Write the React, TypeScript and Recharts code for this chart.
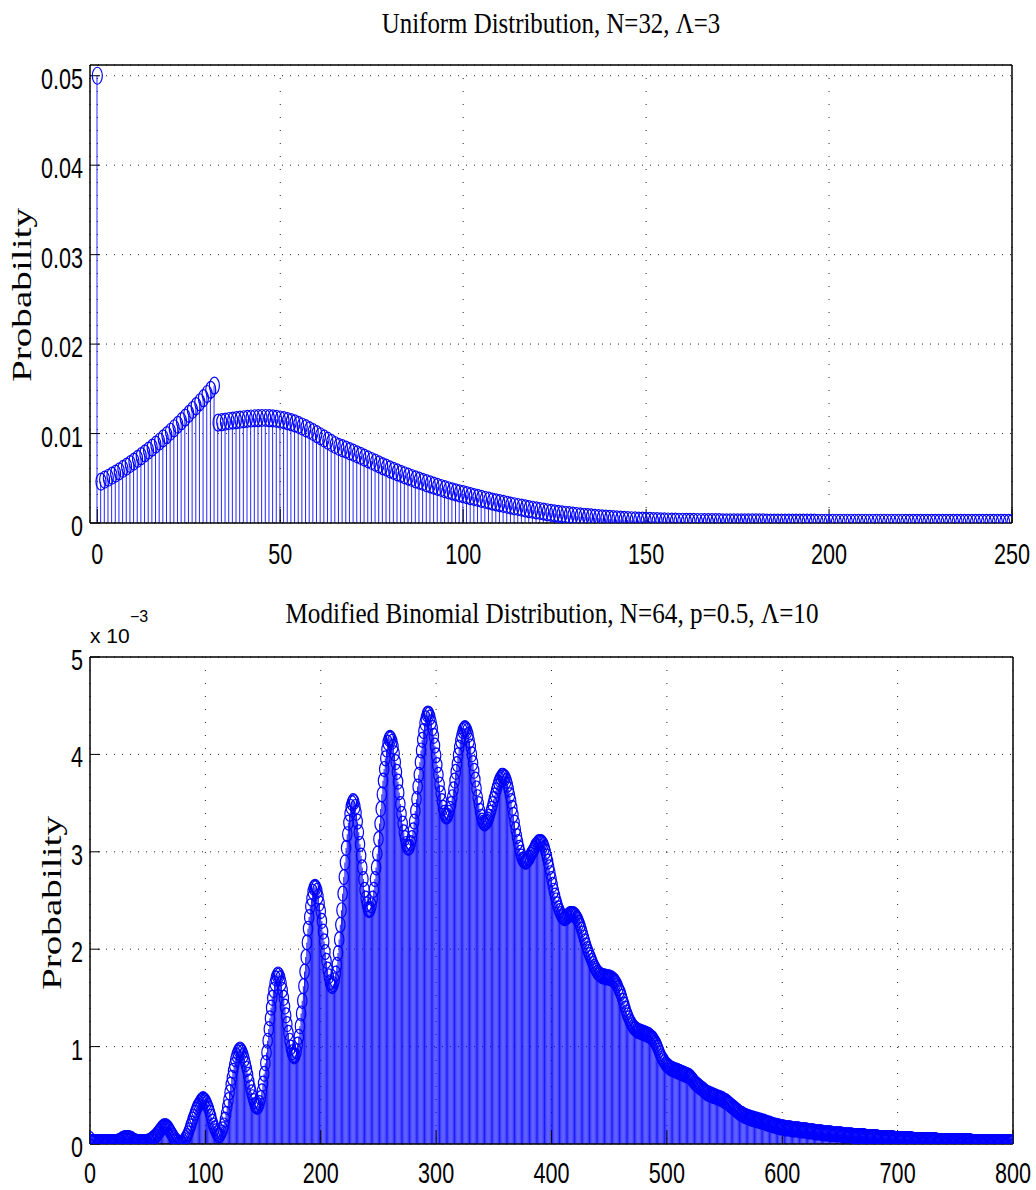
import React from 'react';
import { ComposedChart, Bar, Scatter, XAxis, YAxis, CartesianGrid } from 'recharts';

// tick positions
const uniformXTicks = [0, 50, 100, 150, 200, 250];
const uniformYTicks = [0, 0.01, 0.02, 0.03, 0.04, 0.05];
const binomXTicks = [0, 100, 200, 300, 400, 500, 600, 700, 800];
const binomYTicks = [0, 0.001, 0.002, 0.003, 0.004, 0.005];

// probabilities, in units of 1e-5, index = x
const uniformProbE5 = [
  5000,
  462, 484, 506, 529, 553, 578, 604, 631, 659, 687, 717, 747, 778, 810, 843, 877,
  911, 947, 983, 1020, 1059, 1098, 1138, 1178, 1220, 1263, 1306, 1350, 1395, 1442, 1488, 1536,
  1122, 1128, 1134, 1140, 1145, 1150, 1155, 1160, 1164, 1168, 1171, 1173, 1174, 1174, 1172, 1169,
  1164, 1157, 1149, 1139, 1127, 1113, 1097, 1079, 1060, 1039, 1017, 994, 970, 945, 920, 895, 872,
  852, 836, 820, 803, 786, 768, 750, 731, 712, 693, 674, 655, 636, 618, 600,
  583, 566, 550, 534, 518, 503, 488, 473, 459, 445, 431, 417, 404, 391, 378, 366, 354, 343, 332, 322,
  311, 300, 290, 280, 270, 260, 250, 240, 231, 222,
  213, 204, 195, 187, 179, 171, 163, 155, 148,
  141, 134, 127, 120, 114, 108, 102, 97, 92,
  87, 82, 78, 74, 70, 66, 62, 58, 55,
  52, 49, 46, 43, 40, 38, 35, 33, 31, 29,
  27, 26, 24, 23, 21, 20, 19, 18, 17, 16, 15, 14, 14, 13, 12, 12, 11, 11,
  10, 10, 9, 9, 9, 8, 8, 8, 7, 7,
  7, 7, 6, 6, 6, 6, 6, 5, 5, 5,
  5, 5, 5, 4, 4, 4, 4, 4, 4, 4,
  4, 3, 3, 3, 3, 3, 3, 3, 3, 3,
  3, 3, 3, 3, 3, 3, 3, 3, 3, 3, 3, 3, 3, 3, 3,
  2, 2, 2, 2, 2, 2, 2, 2, 2, 2, 2, 2, 2, 2, 2, 2, 2, 2, 2, 2, 2, 2, 2, 2, 2, 2, 2, 2, 2, 2,
];

const binomProbE5 = [
  5, 2, 2, 2, 2, 2, 2, 2, 2, 2,
  2, 2, 2, 2, 2, 2, 2, 2, 2, 2,
  2, 2, 2, 2, 2, 3, 3, 4, 5, 5,
  6, 6, 6, 6, 6, 5, 5, 4, 3, 3,
  2, 2, 2, 2, 2, 2, 2, 2, 2, 2,
  2, 3, 3, 4, 5, 6, 7, 8, 10, 11,
  13, 14, 16, 17, 18, 18, 18, 17, 16, 14,
  12, 10, 8, 6, 4, 3, 2, 1, 1, 1,
  1, 2, 4, 6, 8, 11, 14, 18, 21, 25,
  28, 32, 35, 38, 40, 42, 44, 45, 46, 45,
  44, 42, 39, 36, 32, 28, 23, 19, 16, 13,
  11, 9, 9, 10, 12, 15, 19, 25, 31, 38,
  45, 53, 61, 68, 75, 81, 87, 91, 94, 96,
  97, 96, 94, 91, 87, 82, 77, 71, 64, 58,
  53, 48, 44, 40, 39, 38, 39, 42, 47, 54,
  62, 72, 83, 94, 106, 118, 129, 140, 150, 158,
  165, 170, 173, 174, 173, 170, 165, 158, 150, 141,
  132, 123, 114, 106, 99, 94, 91, 90, 91, 95,
  102, 110, 121, 134, 147, 162, 177, 192, 207, 221,
  233, 244, 252, 259, 263, 264, 263, 260, 254, 247,
  239, 229, 218, 208, 197, 188, 179, 172, 166, 163,
  162, 164, 168, 175, 184, 196, 210, 225, 240, 257,
  274, 289, 304, 318, 330, 339, 346, 350, 352, 351,
  346, 340, 331, 320, 308, 296, 284, 272, 261, 252,
  246, 241, 240, 241, 245, 252, 261, 272, 284, 298,
  313, 329, 344, 359, 373, 385, 396, 405, 412, 416,
  417, 416, 413, 408, 401, 392, 382, 372, 361, 349,
  339, 329, 320, 314, 308, 305, 304, 305, 309, 314,
  322, 331, 342, 354, 367, 379, 392, 404, 415, 424,
  432, 437, 441, 442, 441, 438, 433, 427, 419, 409,
  399, 389, 379, 369, 360, 352, 345, 340, 337, 336,
  337, 340, 344, 349, 356, 364, 373, 382, 390, 399,
  407, 414, 419, 424, 426, 427, 426, 424, 420, 414,
  408, 400, 391, 383, 374, 365, 356, 349, 342, 336,
  332, 330, 329, 330, 331, 333, 336, 340, 344, 349,
  354, 358, 363, 367, 371, 374, 376, 378, 378, 377,
  376, 373, 369, 364, 358, 352, 345, 338, 330, 323,
  316, 310, 304, 299, 295, 292, 291, 290, 290, 291,
  293, 294, 297, 299, 301, 303, 306, 307, 309, 310,
  310, 310, 309, 307, 304, 300, 295, 290, 284, 278,
  272, 266, 260, 255, 250, 246, 242, 239, 236, 234,
  233, 232, 232, 233, 234, 235, 236, 236, 236, 236,
  235, 234, 232, 230, 227, 224, 220, 216, 212, 208,
  204, 200, 197, 194, 191, 188, 185, 182, 180, 178,
  176, 175, 174, 173, 172, 172, 172, 171, 171, 171,
  171, 170, 170, 169, 168, 167, 165, 163, 160, 157,
  155, 151, 147, 143, 139, 135, 132, 129, 126, 124,
  122, 120, 119, 118, 117, 116, 116, 115, 115, 114,
  114, 113, 113, 112, 112, 111, 110, 109, 108, 106,
  104, 102, 99, 96, 93, 90, 88, 86, 84, 82,
  81, 80, 79, 78, 77, 77, 76, 76, 75, 75,
  74, 74, 73, 73, 72, 72, 71, 71, 70, 70,
  69, 68, 66, 65, 63, 62, 61, 60, 59, 58,
  57, 56, 55, 54, 53, 52, 52, 51, 51, 50,
  50, 49, 49, 48, 48, 47, 47, 46, 46, 45,
  44, 44, 43, 42, 41, 40, 39, 38, 37, 36,
  35, 34, 33, 32, 31, 31, 30, 29, 29, 28,
  28, 27, 27, 26, 26, 26, 25, 25, 25, 24,
  24, 24, 23, 23, 23, 22, 22, 21, 21, 21,
  20, 20, 19, 19, 19, 18, 18, 18, 17, 17,
  17, 17, 16, 16, 16, 16, 16, 16, 15, 15,
  15, 15, 15, 15, 15, 14, 14, 14, 14, 14,
  14, 14, 13, 13, 13, 13, 13, 13, 12, 12,
  12, 12, 12, 12, 12, 11, 11, 11, 11, 11,
  11, 11, 11, 10, 10, 10, 10, 10, 10, 10,
  10, 10, 9, 9, 9, 9, 9, 9, 9, 9,
  9, 8, 8, 8, 8, 8, 8, 8, 8, 8,
  8, 8, 7, 7, 7, 7, 7, 7, 7, 7,
  7, 7, 7, 6, 6, 6, 6, 6, 6, 6,
  6, 6, 6, 6, 6, 6, 6, 5, 5, 5,
  5, 5, 5, 5, 5, 5, 5, 5, 5, 5,
  5, 5, 5, 4, 4, 4, 4, 4, 4, 4,
  4, 4, 4, 4, 4, 4, 4, 4, 4, 4,
  4, 4, 4, 4, 3, 3, 3, 3, 3, 3,
  3, 3, 3, 3, 3, 3, 3, 3, 3, 3,
  3, 3, 3, 3, 3, 3, 3, 3, 3, 3,
  3, 3, 3, 3, 2, 2, 2, 2, 2, 2,
  2, 2, 2, 2, 2, 2, 2, 2, 2, 2,
  2, 2, 2, 2, 2, 2, 2, 2, 2, 2,
  2, 2, 2, 2, 2, 2, 2, 2, 2, 2,
  2,
];

const uniformData = uniformProbE5.map((v, i) => ({ x: i, p: v / 1e5 }));
const binomData = binomProbE5.map((v, i) => ({ x: i, p: v / 1e5 }));

const SANS = '"Liberation Sans", Arial, sans-serif';
const SERIF = '"Liberation Serif", "Times New Roman", serif';
const BLUE = '#0000ff';

const XTick = (props: any) => {
  const { x, y, payload } = props;
  return (
    <text transform={`translate(${x},${y}) scale(0.72,1)`} textAnchor="middle" dy={21}
      fontFamily={SANS} fontSize={30} fill="#000">
      {payload.value}
    </text>
  );
};

const YTick = (props: any) => {
  const { x, y, payload, fmt } = props;
  return (
    <text transform={`translate(${x},${y}) scale(0.72,1)`} textAnchor="end" dy={13}
      fontFamily={SANS} fontSize={30} fill="#000">
      {fmt(payload.value)}
    </text>
  );
};

const ring = (rx: number, ry: number) => (props: any) => (
  <ellipse cx={props.cx} cy={props.cy} rx={rx} ry={ry} fill="none" stroke={BLUE} strokeWidth={1.2} />
);

// invisible marks, only so the top/right frame axes have something attached
const nothing = () => <g />;

interface PanelProps {
  data: { x: number; p: number }[];
  width: number;
  height: number;
  top: number;
  right: number;
  xAxisHeight: number;
  xLabelGap: number;
  xDomain: [number, number];
  xTicks: number[];
  yDomain: [number, number];
  yTicks: number[];
  yFormat: (v: number) => string;
  rx: number;
  ry: number;
  stemOpacity: number;
}

const StemPanel = (props: PanelProps) => {
  const { data, width, height, top, right, xAxisHeight, xLabelGap, xDomain, xTicks, yDomain, yTicks, yFormat, rx, ry, stemOpacity } = props;
  const frame = { stroke: '#000', strokeWidth: 1.5 };
  return (
    <ComposedChart width={width} height={height} data={data} margin={{ top, right, bottom: 0, left: 0 }}>
      <CartesianGrid vertical={false} stroke="#222" strokeDasharray="1 7" />
      <CartesianGrid horizontal={false} stroke="#222" strokeDasharray="1 12" />
      <XAxis dataKey="x" type="number" domain={xDomain} ticks={xTicks} allowDataOverflow interval={0}
        height={xAxisHeight} tickSize={-14} tickMargin={xLabelGap} tick={<XTick />}
        axisLine={frame} tickLine={{ stroke: '#000' }} />
      <XAxis xAxisId="top" dataKey="x" orientation="top" type="number" domain={xDomain} ticks={xTicks} allowDataOverflow
        interval={0} height={1} tickSize={-14} tick={false} axisLine={frame} tickLine={{ stroke: '#000' }} />
      <YAxis type="number" domain={yDomain} ticks={yTicks} allowDataOverflow interval={0} width={90}
        tickSize={-10} tickMargin={17} tick={<YTick fmt={yFormat} />}
        axisLine={frame} tickLine={{ stroke: '#000' }} />
      <YAxis yAxisId="right" orientation="right" type="number" domain={yDomain} ticks={yTicks} allowDataOverflow
        interval={0} width={1} tickSize={-10} tick={false} axisLine={frame} tickLine={{ stroke: '#000' }} />
      <Bar dataKey="p" barSize={1} fill={BLUE} fillOpacity={stemOpacity} isAnimationActive={false} />
      <Scatter dataKey="p" shape={ring(rx, ry)} isAnimationActive={false} />
      <Scatter xAxisId="top" yAxisId="right" dataKey="p" shape={nothing} isAnimationActive={false} />
    </ComposedChart>
  );
};

export default function App() {
  return (
    <div style={{ position: 'absolute', left: 0, top: 0, width: 1036, height: 1190, background: '#fff' }}>
      <div style={{ position: 'absolute', left: 0, top: 0 }}>
        <StemPanel data={uniformData} width={1036} height={580} top={64} right={23} xAxisHeight={57} xLabelGap={34}
          xDomain={[-2, 250]} xTicks={uniformXTicks} yDomain={[0, 0.0512]} yTicks={uniformYTicks}
          yFormat={(v) => (v === 0 ? '0' : v.toFixed(2))} rx={5} ry={8.5} stemOpacity={0.85} />
      </div>
      <div style={{ position: 'absolute', left: 0, top: 580 }}>
        <StemPanel data={binomData} width={1036} height={610} top={76} right={22} xAxisHeight={46} xLabelGap={32}
          xDomain={[0, 800]} xTicks={binomXTicks} yDomain={[0, 0.005]} yTicks={binomYTicks}
          yFormat={(v) => String(Math.round(v * 1000))} rx={4.7} ry={7.5} stemOpacity={0.9} />
      </div>
      <svg width={1036} height={1190} style={{ position: 'absolute', left: 0, top: 0, pointerEvents: 'none' }}>
        <text transform="translate(551,33) scale(0.83,1)" textAnchor="middle" fontFamily={SERIF} fontSize={30} fill="#000">
          Uniform Distribution, N=32, Λ=3
        </text>
        <text transform="translate(552,623) scale(0.84,1)" textAnchor="middle" fontFamily={SERIF} fontSize={30} fill="#000">
          Modified Binomial Distribution, N=64, p=0.5, Λ=10
        </text>
        <text transform="translate(22,295) rotate(-90) scale(1.4,1)" textAnchor="middle" dominantBaseline="central"
          fontFamily={SERIF} fontSize={28} fill="#000">
          Probability
        </text>
        <text transform="translate(52,903) rotate(-90) scale(1.4,1)" textAnchor="middle" dominantBaseline="central"
          fontFamily={SERIF} fontSize={28} fill="#000">
          Probability
        </text>
        <text x={90} y={643} fontFamily={SANS} fontSize={21} fill="#000">x 10</text>
        <text x={130} y={622} fontFamily={SANS} fontSize={16} fill="#000">−3</text>
      </svg>
    </div>
  );
}
